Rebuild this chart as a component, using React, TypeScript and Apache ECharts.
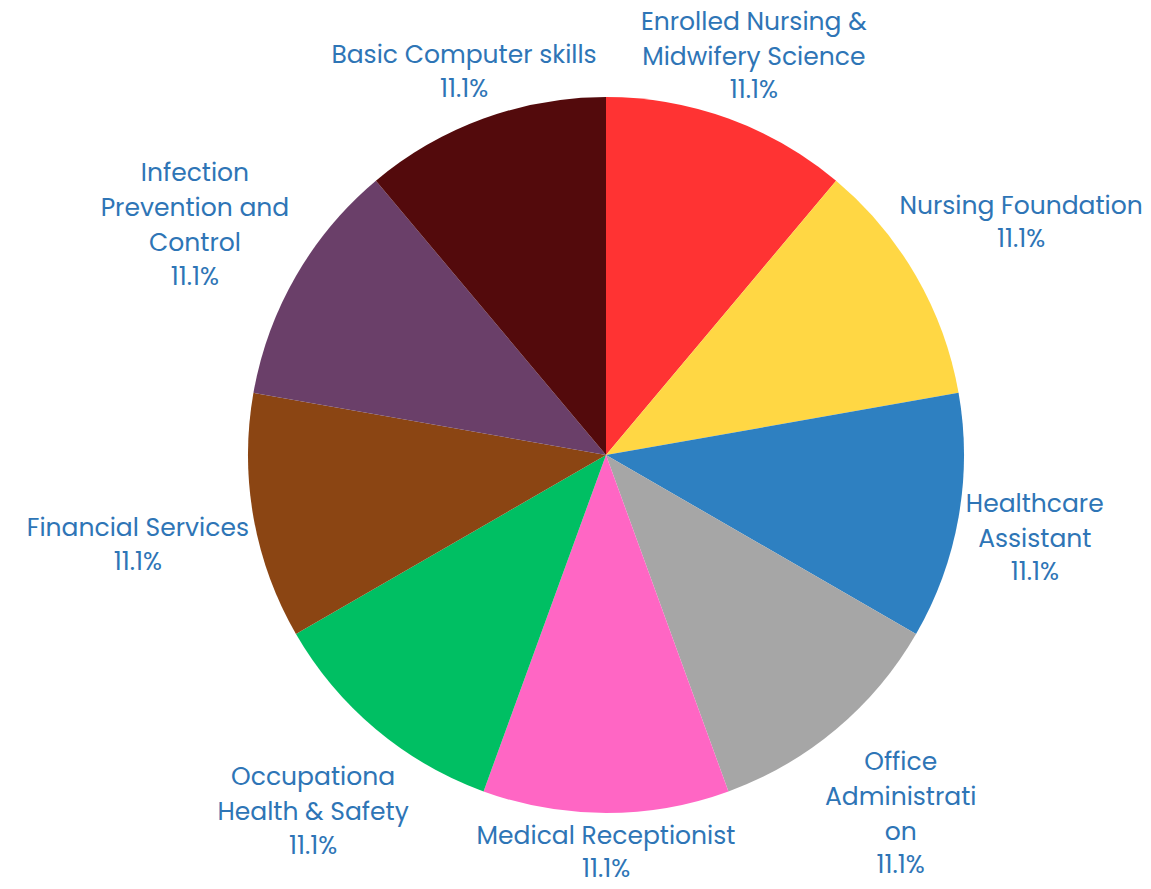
import React, { useEffect, useRef } from "react";
import * as echarts from "echarts";

const categories = [
  "Enrolled Nursing &\nMidwifery Science",
  "Nursing Foundation",
  "Healthcare\nAssistant",
  "Office\nAdministrati\non",
  "Medical Receptionist",
  "Occupationa\nHealth & Safety",
  "Financial Services",
  "Infection\nPrevention and\nControl",
  "Basic Computer skills",
];
const values = [1, 1, 1, 1, 1, 1, 1, 1, 1];
const colors = [
  "#FF3333",
  "#FFD744",
  "#2E80C1",
  "#A6A6A6",
  "#FF66C4",
  "#00BF63",
  "#8B4513",
  "#6A3F69",
  "#530A0C",
];

const CX = 606;
const CY = 455;
const R = 358;
const GAP = 3;
const SHIFT_Y = 6;
const START = 90;
const FONT = "Poppins, 'Open Sans', sans-serif";

export default function App() {
  const ref = useRef<HTMLDivElement>(null);
  useEffect(() => {
    if (!ref.current) return;
    const chart = echarts.init(ref.current, null, { renderer: "svg" });
    const total = values.reduce((a, b) => a + b, 0);
    const mids: number[] = [];
    let acc = 0;
    values.forEach((v) => {
      mids.push(START - ((acc + v / 2) / total) * 360);
      acc += v;
    });
    chart.setOption({
      animation: false,
      series: [
        {
          type: "pie",
          center: [CX, CY],
          radius: R,
          startAngle: START,
          clockwise: true,
          data: categories.map((c, i) => ({
            name: c,
            value: values[i],
            itemStyle: { color: colors[i] },
          })),
          label: {
            show: true,
            position: "outside",
            overflow: "none",
            bleedMargin: 0,
            formatter: (p: any) =>
              "{n|" + p.name + "}\n{p|" + ((p.value / total) * 100).toFixed(1) + "%}",
            color: "#2E75B6",
            fontFamily: FONT,
            rich: {
              n: { fontSize: 25, lineHeight: 35, color: "#2E75B6", fontFamily: FONT },
              p: { fontSize: 25, lineHeight: 32, color: "#2E75B6", fontFamily: FONT },
            },
          },
          labelLine: { show: false },
          labelLayout: (params: any) => {
            const i = params.dataIndex;
            const a = (mids[i] * Math.PI) / 180;
            const ux = Math.cos(a);
            const uy = -Math.sin(a);
            const w = params.labelRect.width / 2;
            const h = params.labelRect.height / 2;
            const dist = (D: number) => {
              const px = D * ux;
              const py = D * uy;
              const qx = Math.max(px - w, Math.min(0, px + w));
              const qy = Math.max(py - h, Math.min(0, py + h));
              return Math.sqrt(qx * qx + qy * qy);
            };
            let lo = R;
            let hi = R + 800;
            for (let k = 0; k < 50; k++) {
              const m = (lo + hi) / 2;
              if (dist(m) < R + GAP) lo = m;
              else hi = m;
            }
            const D = (lo + hi) / 2;
            return {
              x: CX + D * ux,
              y: CY + D * uy + SHIFT_Y,
              align: "center",
              verticalAlign: "middle",
            };
          },
        },
      ],
    });
    return () => chart.dispose();
  }, []);
  return (
    <div
      ref={ref}
      style={{ position: "absolute", left: 0, top: 0, width: 1151, height: 889 }}
    />
  );
}
